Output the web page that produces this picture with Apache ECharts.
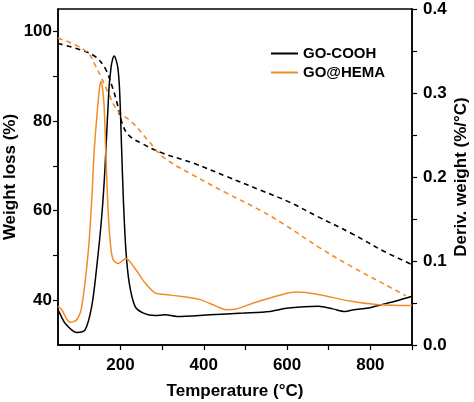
<!DOCTYPE html>
<html>
<head>
<meta charset="utf-8">
<script src="https://cdn.jsdelivr.net/npm/echarts@6/dist/echarts.min.js"></script>
<style>
html,body{margin:0;padding:0;background:#fff;}
#chart{width:474px;height:402px;}
</style>
</head>
<body>
<div id="chart"></div>
<script>
// ---- data ----
// TGA curves (left axis, Weight loss %)
const tgaCoohT = [50,107,139,163,179,191,203,219,251,299,375,455,535,603,675,755,835,899];
const tgaCoohW = [97.3,95.8,94.4,91.8,88.0,84.3,79.8,76.9,75.0,72.9,70.6,67.6,64.6,62.0,58.6,54.9,50.8,48.0];
const tgaHemaT = [50,91,123,139,155,175,195,227,267,303,375,455,535,595,675,755,851,885];
const tgaHemaW = [98.5,97.0,95.1,92.5,89.5,85.4,82.1,79.8,75.6,71.9,67.9,63.9,60.1,56.8,51.9,47.5,42.7,41.0];
// DTG curves (right axis, Deriv. weight %/°C)
const dtgCoohT = [50,52,67,95,115,131,143,155,163,172,177,181,185,189,194,198,203,207,213,221,235,255,283,307,335,415,495,559,603,675,710,739,760,795,827,859,900];
const dtgCoohV = [0.041,0.040,0.026,0.015,0.018,0.046,0.093,0.153,0.212,0.302,0.329,0.340,0.344,0.340,0.329,0.302,0.230,0.173,0.113,0.074,0.046,0.038,0.035,0.036,0.034,0.036,0.038,0.040,0.044,0.046,0.043,0.040,0.042,0.044,0.048,0.052,0.058];
const dtgHemaT = [50,59,79,95,107,123,131,137,145,150,153,157,161,165,171,177,183,195,204,213,235,259,283,307,343,391,431,455,479,519,559,603,627,675,755,819,900];
const dtgHemaV = [0.046,0.042,0.027,0.030,0.046,0.113,0.173,0.232,0.282,0.307,0.314,0.305,0.282,0.226,0.153,0.115,0.101,0.097,0.100,0.103,0.091,0.074,0.062,0.060,0.058,0.054,0.046,0.042,0.043,0.050,0.056,0.062,0.063,0.060,0.052,0.048,0.047];
// axis ticks
const xTicks = [100,200,300,400,500,600,700,800,900];
const xLabels = [200,400,600,800];
const leftTicks = [40,50,60,70,80,90,100];
const leftLabels = [40,60,80,100];
const rightTicks = [0,0.05,0.1,0.15,0.2,0.25,0.3,0.35,0.4];
const rightLabels = [0,0.1,0.2,0.3,0.4];

const zip = (a,b) => a.map((v,i)=>[v,b[i]]);
const ORANGE = '#F28C28';
const FONT = 'Liberation Sans, Arial, sans-serif';
const lblStyle = {fontFamily: FONT, fontWeight: 'bold', fontSize: 17, color: '#000'};

const chart = echarts.init(document.getElementById('chart'), null, {renderer:'canvas'});
chart.setOption({
  animation: false,
  backgroundColor: '#fff',
  grid: {left: 58, right: 62, top: 9, bottom: 57, outerBoundsMode: 'none', containLabel: false,
         show: true, borderColor: '#000', borderWidth: 1.5, backgroundColor: 'transparent'},
  legend: {
    data: ['GO-COOH','GO@HEMA'],
    orient: 'vertical',
    left: 271, top: 46, padding: 0,
    itemWidth: 27, itemHeight: 2, itemGap: 4,
    icon: 'rect',
    textStyle: {fontFamily: FONT, fontWeight: 'bold', fontSize: 15, color: '#000'}
  },
  xAxis: {
    type: 'value', min: 50, max: 900,
    name: 'Temperature (°C)', nameLocation: 'middle', nameGap: 38,
    nameTextStyle: lblStyle,
    axisLine: {show: true, lineStyle: {color: '#000', width: 1.5}},
    axisTick: {show: true, length: 5, customValues: xTicks, lineStyle: {color: '#000', width: 1.2}},
    axisLabel: Object.assign({customValues: xLabels, margin: 12}, lblStyle),
    splitLine: {show: false}
  },
  yAxis: [{
    type: 'value', min: 30, max: 105, position: 'left',
    name: 'Weight loss (%)', nameLocation: 'middle', nameGap: 39, nameRotate: 90, nameMoveOverlap: false,
    nameTextStyle: lblStyle,
    axisLine: {show: true, lineStyle: {color: '#000', width: 1.5}},
    axisTick: {show: true, length: 5, customValues: leftTicks, lineStyle: {color: '#000', width: 1.2}},
    axisLabel: Object.assign({customValues: leftLabels, margin: 6}, lblStyle),
    splitLine: {show: false}
  },{
    type: 'value', min: 0, max: 0.4, position: 'right',
    name: 'Deriv. weight (%/°C)', nameLocation: 'middle', nameGap: 41, nameRotate: 90, nameMoveOverlap: false,
    nameTextStyle: lblStyle,
    axisLine: {show: true, lineStyle: {color: '#000', width: 1.5}},
    axisTick: {show: true, length: 5, customValues: rightTicks, lineStyle: {color: '#000', width: 1.2}},
    axisLabel: Object.assign({customValues: rightLabels, margin: 11, formatter: v => v.toFixed(1)}, lblStyle),
    splitLine: {show: false}
  }],
  series: [
    {name: 'GO-COOH TGA', type: 'line', yAxisIndex: 0, data: zip(tgaCoohT, tgaCoohW), showSymbol: false, smooth: 0.4,
     lineStyle: {color: '#000', width: 1.6, type: [5,4]}, itemStyle: {color: '#000'}},
    {name: 'GO@HEMA TGA', type: 'line', yAxisIndex: 0, data: zip(tgaHemaT, tgaHemaW), showSymbol: false, smooth: 0.4,
     lineStyle: {color: ORANGE, width: 1.6, type: [5,4]}, itemStyle: {color: ORANGE}},
    {name: 'GO-COOH', type: 'line', yAxisIndex: 1, data: zip(dtgCoohT, dtgCoohV), showSymbol: false, smooth: 0.3,
     lineStyle: {color: '#000', width: 1.5}, itemStyle: {color: '#000'}},
    {name: 'GO@HEMA', type: 'line', yAxisIndex: 1, data: zip(dtgHemaT, dtgHemaV), showSymbol: false, smooth: 0.3,
     lineStyle: {color: ORANGE, width: 1.5}, itemStyle: {color: ORANGE}}
  ]
});
</script>
</body>
</html>
